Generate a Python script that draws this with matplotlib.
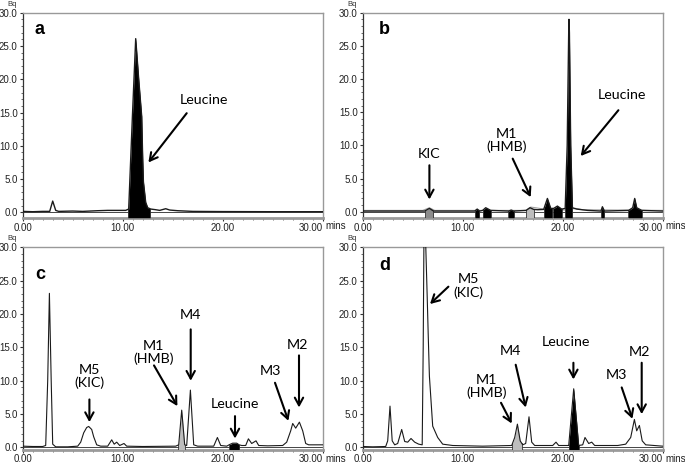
import numpy as np
import matplotlib
matplotlib.use("Agg")
import matplotlib.pyplot as plt
from matplotlib.ticker import MultipleLocator

# ---------------- data ----------------
# Panel a
a_time = [0, 1.0, 2.0, 2.7, 3.0, 3.3, 3.6, 5.0, 6.0, 7.5, 8.5, 9.5, 10.3, 10.6, 10.97, 11.3,
          11.6, 11.9, 12.0, 12.07, 12.3, 12.5, 12.8, 13.3, 13.7, 14.3, 14.7, 15.5, 17.0, 20.0, 25.0, 30.0]
a_bq = [0.15, 0.1, 0.15, 0.15, 1.7, 0.3, 0.15, 0.2, 0.15, 0.25, 0.3, 0.3, 0.3, 0.5, 14.4, 26.1,
        20.0, 14.4, 8.0, 4.6, 1.5, 0.7, 0.5, 0.4, 0.3, 0.55, 0.35, 0.25, 0.15, 0.12, 0.1, 0.1]
a_black = [(10.5, 12.75)]
a_gray = []
a_lgray = []

# Panel b
b_time = [0, 3.0, 6.2, 6.67, 7.1, 11.2, 11.45, 11.7, 12.0, 12.3, 12.8, 14.6, 14.85, 15.1, 16.35,
          16.73, 17.1, 17.5, 18.1, 18.47, 18.8, 19.1, 19.47, 19.9, 20.25, 20.45, 20.6, 20.63, 20.67,
          20.8, 20.97, 21.4, 22.5, 23.83, 23.97, 24.17, 26.6, 27.0, 27.2, 27.4, 27.9, 30.0]
b_bq = [0.1, 0.1, 0.1, 0.5, 0.1, 0.1, 0.4, 0.1, 0.2, 0.6, 0.2, 0.1, 0.25, 0.1, 0.2,
        0.6, 0.35, 0.3, 0.35, 2.0, 0.5, 0.5, 0.85, 0.4, 0.5, 10.0, 27.0, 29.0, 27.0,
        10.0, 0.6, 0.4, 0.2, 0.1, 0.75, 0.1, 0.2, 0.6, 2.0, 0.6, 0.2, 0.1]
b2_time = [0, 6.0, 6.67, 7.2, 16.3, 16.8, 17.3, 18.3, 20.2, 21.3, 22.0, 30.0]
b2_bq = [0.2, 0.2, 0.6, 0.2, 0.2, 0.7, 0.6, 0.35, 0.25, 0.5, 0.3, 0.2]
b_black = [(11.23, 11.67), (12.0, 12.8), (14.57, 15.13), (18.13, 18.97), (19.07, 19.9),
           (20.23, 20.97), (23.83, 24.17), (26.57, 27.9)]
b_gray = [(6.23, 7.07)]
b_lgray = [(16.33, 17.13)]

# Panel c
c_time = [0, 1.0, 2.0, 2.3, 2.5, 2.67, 2.85, 3.0, 3.3, 4.5, 5.5, 5.8, 6.1, 6.4, 6.6, 6.9, 7.1,
          7.4, 7.8, 8.5, 8.9, 9.15, 9.4, 9.7, 10.13, 10.4, 12.0, 15.3, 15.6, 15.9, 16.2, 16.4,
          16.77, 17.1, 17.5, 19.1, 19.47, 19.8, 20.4, 20.7, 21.0, 21.4, 21.65, 21.9, 22.3, 22.57,
          22.9, 23.33, 23.6, 24.5, 26.0, 26.4, 26.8, 27.0, 27.3, 27.67, 28.0, 28.3, 28.6, 30.0]
c_bq = [0.2, 0.15, 0.15, 0.3, 10.0, 23.1, 10.0, 0.5, 0.1, 0.1, 0.2, 0.8, 2.2, 3.0, 3.15, 2.7, 1.6,
        0.4, 0.2, 0.2, 1.15, 0.5, 0.8, 0.3, 0.6, 0.2, 0.15, 0.2, 0.4, 5.6, 0.4, 0.3,
        8.6, 0.4, 0.2, 0.2, 1.5, 0.3, 0.2, 0.45, 0.65, 0.65, 0.4, 0.3, 0.3, 1.3,
        0.6, 1.0, 0.3, 0.25, 0.3, 0.8, 2.5, 3.6, 2.9, 3.8, 2.5, 0.6, 0.4, 0.4]
c_black = [(20.67, 21.67)]
c_gray = []
c_lgray = [(15.57, 16.23)]

# Panel d
d_time = [0, 1.0, 2.3, 2.5, 2.73, 2.95, 3.2, 3.5, 3.9, 4.2, 4.5, 4.83, 5.2, 5.6, 5.95, 6.05,
          6.12, 6.3, 6.45, 6.55, 6.67, 7.0, 7.5, 8.0, 9.0, 12.0, 14.9, 15.2, 15.47, 15.75, 16.0,
          16.3, 16.63, 16.9, 17.2, 19.0, 19.33, 19.6, 20.6, 21.1, 21.6, 22.0, 22.23, 22.6, 22.9,
          23.2, 24.57, 25.5, 26.3, 26.8, 27.17, 27.4, 27.67, 27.95, 28.3, 30.0]
d_bq = [0.15, 0.1, 0.15, 1.0, 6.2, 1.0, 0.4, 0.6, 2.7, 0.9, 0.8, 1.35, 0.8, 0.5, 0.4, 15.0,
        30.5, 30.5, 22.6, 17.0, 10.7, 3.2, 1.5, 0.5, 0.3, 0.2, 0.3, 1.5, 3.5, 1.0, 0.4,
        0.6, 4.6, 0.8, 0.3, 0.3, 0.8, 0.3, 0.3, 8.8, 0.3, 0.4, 1.5, 0.6, 0.8,
        0.3, 0.3, 0.3, 0.5, 1.5, 4.2, 2.5, 3.3, 1.0, 0.4, 0.2]
d_black = [(20.6, 21.6)]
d_gray = []
d_lgray = [(14.97, 15.9)]

panel_letters = ["a", "b", "c", "d"]
x_ticks = [0, 10, 20, 30]
x_ticklabels = ["0.00", "10.00", "20.00", "30.00"]
y_ticks = [0, 5, 10, 15, 20, 25, 30]
y_ticklabels = ["0.0", "5.0", "10.0", "15.0", "20.0", "25.0", "30.0"]

# annotations: (label, text position, arrow tail, arrow head)  -- layout
a_notes = [("Leucine", (18.1, 16.9), (16.4, 14.9), (12.57, 7.5))]
b_notes = [("KIC", (6.67, 8.7), (6.67, 7.0), (6.67, 1.85)),
           ("M1\n(HMB)", (14.4, 10.8), (15.0, 8.0), (16.8, 2.2)),
           ("Leucine", (25.9, 17.6), (25.57, 15.3), (21.8, 8.4))]
c_notes = [("M5\n(KIC)", (6.67, 10.6), (6.67, 7.2), (6.67, 3.8)),
           ("M1\n(HMB)", (13.07, 14.3), (13.13, 12.3), (15.47, 6.2)),
           ("M4", (16.8, 19.9), (16.8, 17.7), (16.8, 10.0)),
           ("Leucine", (21.23, 6.5), (21.23, 4.7), (21.23, 1.35)),
           ("M3", (24.8, 11.4), (25.23, 9.7), (26.57, 4.0)),
           ("M2", (27.5, 15.3), (27.63, 13.8), (27.63, 6.0))]
d_notes = [("M5\n(KIC)", (10.6, 24.2), (8.57, 24.1), (6.73, 21.5)),
           ("M4", (14.8, 14.4), (15.3, 12.4), (16.3, 6.0)),
           ("M1\n(HMB)", (12.4, 9.1), (13.83, 6.7), (14.9, 3.6)),
           ("Leucine", (20.33, 15.8), (21.07, 12.7), (21.07, 10.2)),
           ("M3", (25.4, 10.8), (25.9, 9.0), (26.97, 4.3)),
           ("M2", (27.67, 14.3), (27.9, 12.7), (27.9, 5.0))]

# ---------------- drawing ----------------
W, H = 685, 466
fig = plt.figure(figsize=(W / 100, H / 100), dpi=100)


def rect(l, t, r, b):
    return [l / W, 1 - b / H, (r - l) / W, (b - t) / H]


axes = [fig.add_axes(rect(22.7, 12.7, 323.3, 217.7)),
        fig.add_axes(rect(362.7, 12.7, 663.3, 217.7)),
        fig.add_axes(rect(22.7, 247.3, 323.3, 449.5)),
        fig.add_axes(rect(362.7, 247.3, 663.3, 449.5))]
ybots = [-0.8, -0.9, -0.3, -0.3]
traces = [(a_time, a_bq), (b_time, b_bq), (c_time, c_bq), (d_time, d_bq)]
fills = [(a_black, a_gray, a_lgray), (b_black, b_gray, b_lgray),
         (c_black, c_gray, c_lgray), (d_black, d_gray, d_lgray)]
notes = [a_notes, b_notes, c_notes, d_notes]
letter_pos = [(1.67, 27.5), (2.17, 27.5), (1.73, 25.9), (2.17, 27.2)]
line_w = [1.0, 1.0, 0.8, 0.8]

tick_font = "Liberation Sans"
note_font = "Lato"

for i, ax in enumerate(axes):
    t = np.asarray(traces[i][0], float)
    v = np.asarray(traces[i][1], float)
    ybot = ybots[i]
    ax.set_xlim(0, 30.06)
    ax.set_ylim(ybot, 30)
    ax.axhline(0, color="#444444", lw=0.7, zorder=1)
    if i == 1:
        ax.plot(b2_time, b2_bq, color="#a0a0a0", lw=0.8, zorder=2)
    for windows, col in zip(fills[i], ["black", "#8c8c8c", "#bdbdbd"]):
        for (lo, hi) in windows:
            xs = np.concatenate([[lo], t[(t > lo) & (t < hi)], [hi]])
            ys = np.interp(xs, t, v)
            ax.fill_between(xs, ys, ybot, color=col, lw=0, zorder=3)
            ax.plot([lo, lo], [ybot, np.interp(lo, t, v)], color="#333333", lw=0.6, zorder=3)
            ax.plot([hi, hi], [ybot, np.interp(hi, t, v)], color="#333333", lw=0.6, zorder=3)
    ax.plot(t, v, color="#1a1a1a", lw=line_w[i], zorder=4)

    # ticks
    ax.set_xticks(x_ticks, labels=x_ticklabels)
    ax.set_yticks(y_ticks, labels=y_ticklabels)
    ax.xaxis.set_minor_locator(MultipleLocator(1))
    ax.yaxis.set_minor_locator(MultipleLocator(1))
    ax.tick_params(which="major", direction="out", length=2.2, width=0.8, color="#333333",
                   labelsize=7, labelcolor="#222222", pad=1.4)
    ax.tick_params(which="minor", direction="out", length=1.2, width=0.6, color="#555555")
    for lab in ax.get_xticklabels() + ax.get_yticklabels():
        lab.set_fontfamily(tick_font)
    ax.get_xticklabels()[-1].set_horizontalalignment("right")

    ax.spines["left"].set_color("#333333")
    ax.spines["left"].set_linewidth(0.9)
    for s in ["top", "right"]:
        ax.spines[s].set_color("#999999")
        ax.spines[s].set_linewidth(1.0)
    ax.spines["bottom"].set_color("#9a9a9a")
    ax.spines["bottom"].set_linewidth(2.0)

    ax.text(1.008, -0.017 if i < 2 else -0.02, "mins", transform=ax.transAxes, ha="left",
            va="top", fontsize=7, color="#222222", family=tick_font)
    ax.annotate("Bq", xy=(0, 1), xycoords="axes fraction", xytext=(-7.7, 6.2),
                textcoords="offset points", ha="center", va="center", fontsize=5.5,
                color="#333333", family=tick_font)

    lx, ly = letter_pos[i]
    ax.text(lx, ly, panel_letters[i], ha="center", va="center", fontsize=13,
            fontweight="bold", family=tick_font, color="black")

    for label, tpos, tail, head in notes[i]:
        ax.text(tpos[0], tpos[1], label, ha="center", va="center", fontsize=10.3,
                family=note_font, color="black", linespacing=1.05, zorder=6)
        ax.annotate("", xy=head, xytext=tail,
                    arrowprops=dict(arrowstyle="->,head_length=0.55,head_width=0.3",
                                    lw=1.5, color="black", shrinkA=0, shrinkB=0),
                    zorder=6)

fig.savefig("out.png", dpi=100)
